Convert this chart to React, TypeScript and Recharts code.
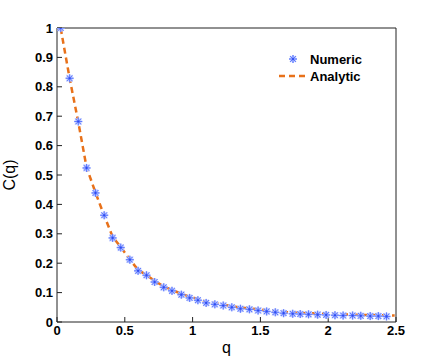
import React from 'react'
import {
  ComposedChart,
  Line,
  Scatter,
  XAxis,
  YAxis,
  Legend,
} from 'recharts'

const qNumeric = [
  0.027, 0.093, 0.157, 0.218, 0.284, 0.348, 0.41, 0.47, 0.537, 0.598, 0.66,
  0.72, 0.787, 0.848, 0.917, 0.978, 1.039, 1.1, 1.164, 1.226, 1.289, 1.353,
  1.419, 1.483, 1.546, 1.61, 1.671, 1.738, 1.794, 1.855, 1.922, 1.985, 2.05,
  2.11, 2.18, 2.24, 2.31, 2.37, 2.43,
]
const cNumeric = [
  1.0, 0.829, 0.682, 0.524, 0.439, 0.363, 0.286, 0.253, 0.212, 0.174, 0.159,
  0.136, 0.118, 0.106, 0.093, 0.082, 0.074, 0.065, 0.06, 0.056, 0.05, 0.045,
  0.043, 0.039, 0.036, 0.033, 0.03, 0.028, 0.027, 0.026, 0.025, 0.024, 0.023,
  0.022, 0.022, 0.021, 0.02, 0.02, 0.019,
]

const qAnalytic = [
  0.027, 0.093, 0.157, 0.218, 0.284, 0.348, 0.41, 0.47, 0.537, 0.598, 0.66,
  0.72, 0.787, 0.848, 0.917, 0.978, 1.039, 1.1, 1.164, 1.226, 1.289, 1.353,
  1.419, 1.483, 1.546, 1.61, 1.671, 1.738, 1.794, 1.855, 1.922, 1.985, 2.05,
  2.11, 2.18, 2.24, 2.31, 2.37, 2.43, 2.49,
]
const cAnalytic = [
  1.0, 0.829, 0.68, 0.526, 0.44, 0.362, 0.29, 0.255, 0.213, 0.177, 0.16,
  0.14, 0.121, 0.109, 0.096, 0.086, 0.078, 0.069, 0.064, 0.059, 0.054, 0.049,
  0.046, 0.043, 0.04, 0.037, 0.034, 0.032, 0.031, 0.03, 0.029, 0.028, 0.027,
  0.026, 0.025, 0.024, 0.024, 0.023, 0.023, 0.022,
]

const xTicks = [0, 0.5, 1, 1.5, 2, 2.5]
const yTicks = [0, 0.1, 0.2, 0.3, 0.4, 0.5, 0.6, 0.7, 0.8, 0.9, 1]

const numericData = qNumeric.map((q, i) => ({ q, c: cNumeric[i] }))
const analyticData = qAnalytic.map((q, i) => ({ q, c: cAnalytic[i] }))

const FONT = '"Liberation Sans", Arial, Helvetica, sans-serif'
const ORANGE = '#e8711a'
const tickStyle = { fill: '#000', fontSize: 13, fontWeight: 700, fontFamily: FONT }

// matlab style asterisk marker
const Star = ({ cx, cy, r = 4 }: { cx: number; cy: number; r?: number }) => {
  const d = r * 0.72
  const path = `M${cx - r},${cy}H${cx + r}M${cx},${cy - r}V${cy + r}M${cx - d},${cy - d}L${cx + d},${cy + d}M${cx - d},${cy + d}L${cx + d},${cy - d}`
  return (
    <g>
      <path d={path} stroke='#b9c6ff' strokeWidth={2} fill='none' />
      <path d={path} stroke='#5470ff' strokeWidth={0.9} fill='none' />
      <circle cx={cx} cy={cy} r={1.1} fill='#2f4cf0' />
    </g>
  )
}

const LegendBox = () => (
  <svg width={130} height={42} style={{ display: 'block' }}>
    <Star cx={18} cy={11} />
    <text x={35} y={11} dominantBaseline='central' style={tickStyle}>
      Numeric
    </text>
    <line
      x1={4}
      y1={28}
      x2={32}
      y2={28}
      stroke={ORANGE}
      strokeWidth={2.5}
      strokeDasharray='6 4'
    />
    <text x={35} y={28} dominantBaseline='central' style={tickStyle}>
      Analytic
    </text>
  </svg>
)

export default function App() {
  return (
    <div style={{ position: 'absolute', left: 0, top: 0, background: '#fff' }}>
      <ComposedChart
        width={436}
        height={363}
        margin={{ top: 27, right: 39, bottom: 11, left: 12 }}>
        <XAxis
          dataKey='q'
          type='number'
          domain={[0, 2.5]}
          ticks={xTicks}
          height={30}
          tickSize={-5}
          tickMargin={9}
          tick={tickStyle}
          stroke='#222'
          allowDataOverflow
          label={({ viewBox }: any) => (
            <text
              x={viewBox.x + viewBox.width / 2}
              y={viewBox.y + 31}
              textAnchor='middle'
              style={{ fontSize: 16, fontFamily: FONT, fill: '#000' }}>
              q
            </text>
          )}
        />
        <XAxis
          xAxisId='top'
          orientation='top'
          type='number'
          domain={[0, 2.5]}
          ticks={xTicks}
          height={1}
          tickSize={-5}
          tick={false}
          stroke='#222'
        />
        <YAxis
          dataKey='c'
          type='number'
          domain={[0, 1]}
          ticks={yTicks}
          width={45}
          tickSize={-5}
          tickMargin={9}
          tick={tickStyle}
          stroke='#222'
          allowDataOverflow
          label={({ viewBox }: any) => (
            <text
              x={15}
              y={viewBox.y + viewBox.height / 2}
              transform={`rotate(-90 15 ${viewBox.y + viewBox.height / 2})`}
              textAnchor='middle'
              style={{ fontSize: 16, fontFamily: FONT, fill: '#000' }}>
              C(q)
            </text>
          )}
        />
        <YAxis
          yAxisId='right'
          orientation='right'
          type='number'
          domain={[0, 1]}
          ticks={yTicks}
          width={1}
          tickSize={-5}
          tick={false}
          stroke='#222'
        />
        <Legend
          layout='horizontal'
          verticalAlign='middle'
          align='center'
          wrapperStyle={{ left: 275, top: 48, width: 130 }}
          content={() => <LegendBox />}
        />
        <Scatter
          data={numericData}
          dataKey='c'
          shape={(p: any) => <Star cx={p.cx} cy={p.cy} />}
          isAnimationActive={false}
        />
        <Line
          data={analyticData}
          dataKey='c'
          type='linear'
          stroke={ORANGE}
          strokeWidth={2.5}
          strokeDasharray='6 4'
          dot={false}
          isAnimationActive={false}
        />
      </ComposedChart>
    </div>
  )
}
